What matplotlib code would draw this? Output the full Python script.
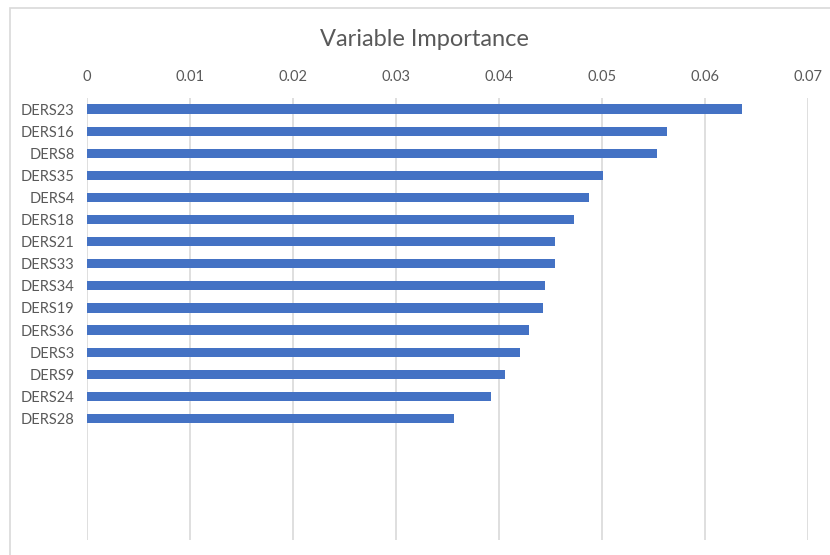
import matplotlib
matplotlib.use("Agg")
import matplotlib.pyplot as plt
from matplotlib.patches import Rectangle

categories = ["DERS23", "DERS16", "DERS8", "DERS35", "DERS4", "DERS18", "DERS21",
              "DERS33", "DERS34", "DERS19", "DERS36", "DERS3", "DERS9", "DERS24", "DERS28"]
values = [0.0636, 0.0563, 0.0553, 0.0501, 0.0487, 0.0473, 0.0454,
          0.0454, 0.0445, 0.0443, 0.0429, 0.0420, 0.0406, 0.0392, 0.0356]
xticks = [0, 0.01, 0.02, 0.03, 0.04, 0.05, 0.06, 0.07]
xticklabels = ["0", "0.01", "0.02", "0.03", "0.04", "0.05", "0.06", "0.07"]
n_slots = 20

plt.rcParams['font.family'] = ['Lato', 'DejaVu Sans']
W, H = 830, 555
fig = plt.figure(figsize=(W / 100, H / 100), dpi=100)
fig.patch.set_facecolor("white")

# outer chart frame
fig.patches.append(Rectangle((10 / W, -0.01), 1.0, 1 - 8 / H + 0.01,
                             transform=fig.transFigure, fill=False,
                             edgecolor="#D9D9D9", linewidth=1.2))

ax = fig.add_axes([87 / W, 1 - 540 / H, (808 - 87) / W, (540 - 98) / H])
ypos = list(range(len(categories)))
ax.barh(ypos, values, height=0.42, color="#4472C4", zorder=3)

ax.set_xlim(0, 0.07)
ax.set_ylim(n_slots - 0.5, -0.5)
ax.set_xticks(xticks)
ax.set_xticklabels(xticklabels)
ax.xaxis.tick_top()
ax.set_yticks(ypos)
ax.set_yticklabels(categories)
ax.tick_params(axis="x", length=0, pad=10, labelsize=10.5, labelcolor="#595959")
ax.tick_params(axis="y", length=0, pad=9, labelsize=10.5, labelcolor="#595959")
ax.grid(axis="x", color="#D9D9D9", linewidth=1.2, zorder=0)
ax.grid(axis="y", visible=False)
for s in ax.spines.values():
    s.set_visible(False)

fig.text(424 / W, 1 - 40 / H, "Variable Importance", ha="center", va="center",
         fontsize=17, color="#595959")

fig.savefig("out.png", dpi=100)
